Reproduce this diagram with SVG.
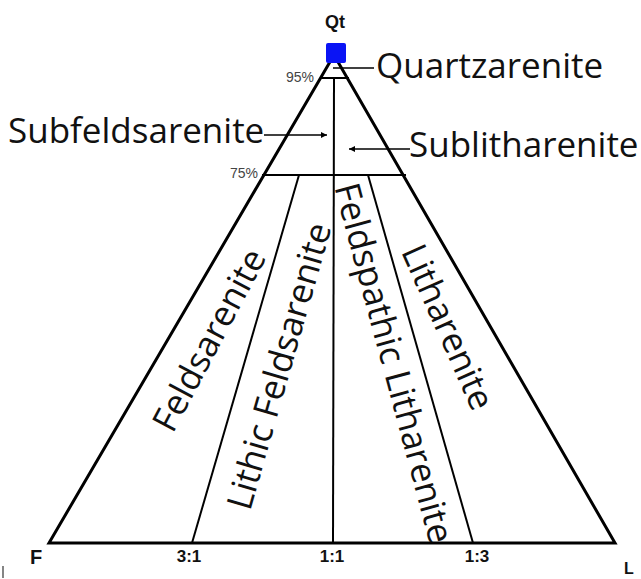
<svg xmlns="http://www.w3.org/2000/svg" width="641" height="579" viewBox="0 0 641 579">
<defs>
<style>
.lbl{font-family:"Open Sans","Noto Sans",sans-serif;font-size:35px;fill:#111;}
.rot{font-family:"Open Sans","Noto Sans",sans-serif;font-size:35px;fill:#111;text-anchor:middle;}
.ax{font-family:"Liberation Sans",Arial,sans-serif;font-weight:bold;fill:#111;}
.pct{font-family:"Liberation Sans",Arial,sans-serif;font-size:14px;fill:#444;}
.thick{stroke:#000;stroke-width:3;fill:none;stroke-linejoin:miter;}
.thin{stroke:#000;stroke-width:2;fill:none;}
.lead{stroke:#000;stroke-width:1.6;fill:none;}
</style>
<marker id="ah" viewBox="0 0 10 10" refX="10" refY="5" markerWidth="8" markerHeight="6" markerUnits="userSpaceOnUse" orient="auto">
<path d="M0,0 L10,5 L0,10 z" fill="#000"/>
</marker>
</defs>
<rect width="641" height="579" fill="#fff"/>

<g id="triangle">
<path class="thick" d="M49,543 L334,55 L615,543 Z"/>
</g>

<g id="connectors">
<line class="thin" x1="320" y1="78" x2="349" y2="78"/>
<line class="thin" x1="262" y1="175" x2="406" y2="175"/>
<line class="thin" x1="334" y1="78" x2="333" y2="543"/>
<line class="thin" x1="192" y1="543" x2="299" y2="175"/>
<line class="thin" x1="473" y1="543" x2="368" y2="175"/>
<line class="lead" x1="333" y1="68" x2="374" y2="68"/>
<line class="lead" x1="264" y1="135" x2="327" y2="135" marker-end="url(#ah)"/>
<line class="lead" x1="410" y1="149" x2="349" y2="149" marker-end="url(#ah)"/>
</g>

<g id="qt">
<rect x="326" y="43" width="20" height="20" rx="2" fill="#0a14f5"/>
<text class="ax" x="335" y="28" font-size="18" text-anchor="middle">Qt</text>
</g>

<g id="percent">
<text class="pct" x="286" y="82">95%</text>
<text class="pct" x="230" y="178">75%</text>
</g>

<g id="quartzarenite"><text class="lbl" x="376" y="78">Quartzarenite</text></g>
<g id="subfeldsarenite"><text class="lbl" x="8" y="143">Subfeldsarenite</text></g>
<g id="sublitharenite"><text class="lbl" x="409" y="157">Sublitharenite</text></g>

<g id="feldsarenite"><text class="rot" transform="translate(209,340) rotate(-62)" dy="0.35em">Feldsarenite</text></g>
<g id="lithic-feldsarenite"><text class="rot" transform="translate(279,366) rotate(-74)" dy="0.35em">Lithic Feldsarenite</text></g>
<g id="feldspathic-litharenite"><text class="rot" transform="translate(394,363) rotate(75)" dy="0.35em">Feldspathic Litharenite</text></g>
<g id="litharenite"><text class="rot" transform="translate(448,327) rotate(66)" dy="0.35em">Litharenite</text></g>

<g id="axis-labels">
<text class="ax" x="30" y="564" font-size="20">F</text>
<text class="ax" x="624" y="574" font-size="16">L</text>
<text class="ax" x="189" y="562" font-size="17" text-anchor="middle">3:1</text>
<text class="ax" x="332" y="562" font-size="17" text-anchor="middle">1:1</text>
<text class="ax" x="477" y="562" font-size="17" text-anchor="middle">1:3</text>
<line x1="3" y1="566" x2="3" y2="578" stroke="#333" stroke-width="1.2"/>
</g>
</svg>
